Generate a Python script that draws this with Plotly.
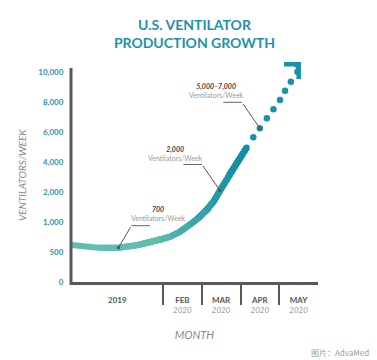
import numpy as np
import plotly.graph_objects as go

# ---------------- data ----------------
y_tick_values = [0, 500, 1000, 2000, 4000, 6000, 8000, 10000]
x_tick_pos = [-0.18, 1.5, 2.5, 3.5, 4.5]
x_tick_month = ["2019", "FEB", "MAR", "APR", "MAY"]
x_tick_year = ["", "2020", "2020", "2020", "2020"]
month_boundaries = [1, 2, 3, 4]

# actual production (x: month index, 2019 compressed before Feb 2020 = 1)
actual_month = [-1.36, -0.67, -0.15, 0.36, 0.92, 1.18, 1.44, 1.70, 1.91, 2.13,
                2.30, 2.47, 2.69, 2.91, 3.16]
actual_value = [617, 572, 572, 617, 701, 756, 839, 951, 1125, 1402,
                1679, 2106, 3108, 3942, 4976]

# projected production (dotted)
projected_month = [3.33, 3.50, 3.68, 3.85, 4.02, 4.15, 4.30, 4.47]
projected_value = [5656, 6256, 6924, 7524, 8146, 8766, 9366, 10034]
arrow_tip_month = 4.56
arrow_tip_value = 10682

callout_month = [-0.15, 2.47, 3.50]
callout_value = [572, 2106, 6256]
callout_number = ["700", "2,000", "5,000\u20137,000"]
callout_unit = "Ventilators/Week"

# ---------------- scale ----------------
scale_vals = y_tick_values + [12000]
scale_idx = list(range(len(scale_vals)))


def to_axis(v):
    return np.interp(np.asarray(v, dtype=float), scale_vals, scale_idx)


Y_TOP = 7.674
X_RANGE = [-1.374, 5.0]
AXIS_COLOR = "#58585a"
TEAL = "#1693ab"

fig = go.Figure()

# gradient solid curve: overlay progressively darker pieces
c0 = np.array([96, 189, 176])
c1 = np.array([16, 143, 169])
n = len(actual_month)
for k in range(n - 1):
    mid = 0.5 * (actual_month[k] + actual_month[k + 1])
    t = float(np.clip((mid - 0.8) / (2.9 - 0.8), 0, 1))
    c = (c0 + (c1 - c0) * t).round().astype(int)
    fig.add_trace(go.Scatter(
        x=actual_month[k:], y=to_axis(actual_value[k:]), mode="lines",
        line=dict(color=f"rgb({c[0]},{c[1]},{c[2]})", width=6),
        hoverinfo="skip", showlegend=False))

# round end cap
fig.add_trace(go.Scatter(
    x=actual_month[-1:], y=to_axis(actual_value[-1:]), mode="markers",
    marker=dict(color=f"rgb({c1[0]},{c1[1]},{c1[2]})", size=6),
    hoverinfo="skip", showlegend=False))

# projected dots
fig.add_trace(go.Scatter(
    x=projected_month, y=to_axis(projected_value), mode="markers",
    marker=dict(color=TEAL, size=6.5), cliponaxis=False,
    hoverinfo="skip", showlegend=False))

annotations = []

# arrow head
annotations.append(dict(
    x=arrow_tip_month, y=float(to_axis(arrow_tip_value)), xref="x", yref="y",
    text="", showarrow=True, arrowhead=4, arrowwidth=4, arrowsize=1,
    arrowcolor=TEAL, ax=-7, ay=7))

# callouts: (label shift, diagonal leader, horizontal leader)
label_shift = [(40, 34), (-44, 37), (-43, 38)]
diag = [(13, -22), (-18, -26), (-18, -26)]
horiz = [20, -20, -20]
for i in range(len(callout_month)):
    px = callout_month[i]
    py = float(to_axis(callout_value[i]))
    annotations.append(dict(
        x=px, y=py, xref="x", yref="y", showarrow=False,
        xshift=label_shift[i][0], yshift=label_shift[i][1],
        text=(f"<b><i>{callout_number[i]}</i></b><br>"
              f"<span style='color:#9a9a9a'>{callout_unit}</span>"),
        font=dict(family="Lato", size=7, color="#444444")))
    annotations.append(dict(
        x=px, y=py, xref="x", yref="y", text="", showarrow=True,
        arrowhead=6, arrowsize=0.8, arrowwidth=1, arrowcolor="#555555",
        ax=diag[i][0], ay=diag[i][1]))
    annotations.append(dict(
        x=px, y=py, xref="x", yref="y", text="", showarrow=True,
        arrowhead=0, arrowwidth=1, arrowcolor="#666666",
        xshift=diag[i][0], yshift=-diag[i][1], ax=horiz[i], ay=0))

# y axis title
annotations.append(dict(
    x=(22 - 71) / 247, y=(282 - 175) / 230, xref="paper", yref="paper",
    xanchor="center", yanchor="middle",
    text="<i>VENTILATORS/WEEK</i>", textangle=-90, showarrow=False,
    font=dict(family="Lato", size=10, color="#8a8a8a")))

# source
annotations.append(dict(
    x=(371 - 71) / 247, y=(282 - 352) / 230, xref="paper", yref="paper",
    xanchor="right", yanchor="middle", text="图片：AdvaMed", showarrow=False,
    font=dict(family="Noto Sans CJK SC", size=8, color="#9a9a9a")))

x_ticktext = []
for m, yr in zip(x_tick_month, x_tick_year):
    if yr:
        x_ticktext.append(f"<b>{m}</b><br><span style='color:#9a9a9a'><i>{yr}</i></span>")
    else:
        x_ticktext.append(f"<b>{m}</b>")

fig.update_layout(
    width=377, height=360,
    margin=dict(l=71, r=59, t=52, b=78, autoexpand=False),
    paper_bgcolor="white", plot_bgcolor="white", showlegend=False,
    title=dict(text="<b>U.S. VENTILATOR<br>PRODUCTION GROWTH</b>",
               x=0.5, xref="paper", xanchor="center",
               y=1 - 30 / 360, yref="container", yanchor="middle",
               font=dict(family="Lato", size=14, color="#1b93ab", weight=900)),
    xaxis=dict(range=X_RANGE, showgrid=False, zeroline=False, automargin=False,
               showline=True, linewidth=3, linecolor=AXIS_COLOR,
               tickmode="array", tickvals=x_tick_pos, ticktext=x_ticktext,
               ticks="outside", ticklen=8, tickcolor="rgba(0,0,0,0)",
               tickfont=dict(family="Lato", size=8, color="#555555"),
               minor=dict(tickmode="array", tickvals=month_boundaries,
                          ticks="outside", ticklen=20, tickwidth=2,
                          tickcolor=AXIS_COLOR),
               title=dict(text="<i>MONTH</i>", standoff=18,
                          font=dict(family="Lato", size=11, color="#8a8a8a"))),
    yaxis=dict(range=[0, Y_TOP], showgrid=False, zeroline=False, showline=False,
               automargin=False,
               tickmode="array", tickvals=list(range(len(y_tick_values))),
               ticktext=[f"{v:,}" for v in y_tick_values],
               ticks="outside", ticklen=5, tickcolor="rgba(0,0,0,0)",
               tickfont=dict(family="Lato", size=8, color="#2a97ad", weight="bold")),
    annotations=annotations,
    shapes=[dict(type="line", xref="paper", yref="paper",
                 x0=0, x1=0, y0=-0.013, y1=7.14 / Y_TOP,
                 line=dict(color=AXIS_COLOR, width=3))],
)

fig.write_html("out.html", config={"displayModeBar": False},
               post_script="document.body.style.margin='0';document.body.style.overflow='hidden';")
